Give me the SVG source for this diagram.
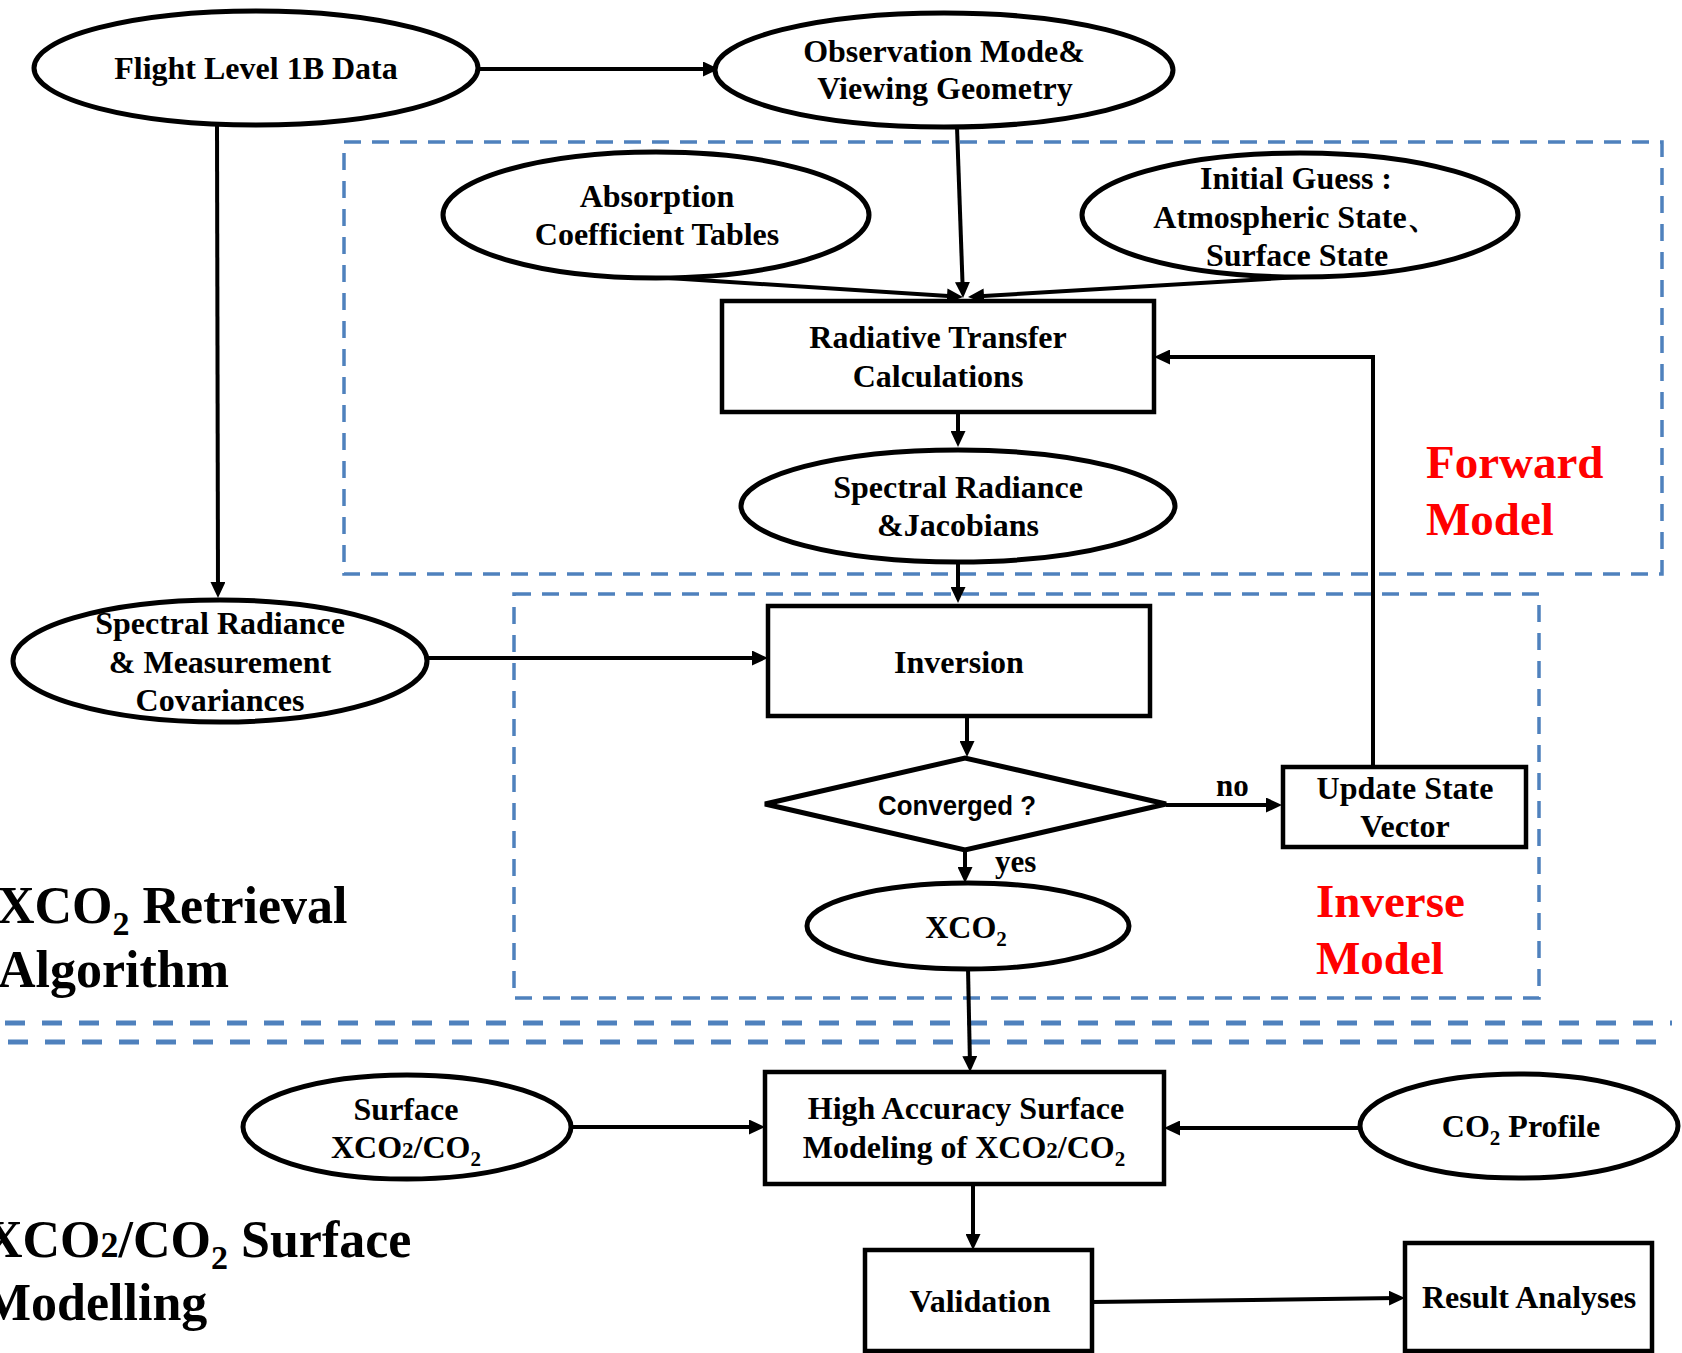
<svg xmlns="http://www.w3.org/2000/svg" width="1682" height="1353" viewBox="0 0 1682 1353">
<style>
.sh{fill:#fff;stroke:#000;stroke-width:5}
.bx{fill:#fff;stroke:#000;stroke-width:4.5}
.t{font-family:"Liberation Serif","Times New Roman",serif;font-weight:bold;font-size:32px;fill:#000;text-anchor:middle}
.tl{font-family:"Liberation Serif","Times New Roman",serif;font-weight:bold;font-size:31px;fill:#000}
.big{font-family:"Liberation Serif","Times New Roman",serif;font-weight:bold;font-size:52px;fill:#000}
.red{font-family:"Liberation Serif","Times New Roman",serif;font-weight:bold;font-size:47px;fill:#ff0000}
.sans{font-family:"Liberation Sans",Arial,sans-serif;font-weight:bold;font-size:28px;fill:#000}
.dash{fill:none;stroke:#4f81bd;stroke-width:3.5;stroke-dasharray:17 11}
.sep{fill:none;stroke:#4f81bd;stroke-width:5;stroke-dasharray:20 17}
.c{fill:none;stroke:#000;stroke-width:4;marker-end:url(#ah)}
</style>
<defs>
<marker id="ah" markerWidth="16" markerHeight="15" refX="9" refY="7.5" orient="auto" markerUnits="userSpaceOnUse"><path d="M0,0 L16,7.5 L0,15 z" fill="#000"/></marker>
</defs>
<rect width="1682" height="1353" fill="#fff"/>

<g id="regions">
<rect class="dash" x="344" y="142" width="1318" height="432"/>
<rect class="dash" x="514" y="594" width="1025" height="404"/>
<line class="sep" x1="5" y1="1023" x2="1672" y2="1023"/>
<line class="sep" x1="8" y1="1042" x2="1672" y2="1042"/>
</g>

<g id="connectors">
<path class="c" d="M478,69 L712,69"/>
<path class="c" d="M217,125 L218,591"/>
<path class="c" d="M957,127 L962.8,291"/>
<path class="c" d="M653,277 L956,296.5"/>
<path class="c" d="M1300,277 L975,296.5"/>
<path class="c" d="M958,412 L958,440"/>
<path class="c" d="M958,563 L958,596"/>
<path class="c" d="M427,658 L761,658"/>
<path class="c" d="M967,716 L967,750"/>
<path class="c" d="M1166,805 L1275,805"/>
<path class="c" d="M1373,767 L1373,357 L1161,357"/>
<path class="c" d="M965,850 L965,876"/>
<path class="c" d="M968,968 L970,1065"/>
<path class="c" d="M570,1127 L758,1127"/>
<path class="c" d="M1360,1128 L1171,1128"/>
<path class="c" d="M973,1184 L973,1243"/>
<path class="c" d="M1092,1302 L1398,1298"/>
<text class="tl" x="1216" y="796">no</text>
<text class="tl" x="995" y="872">yes</text>
</g>

<g id="flight">
<ellipse class="sh" cx="256" cy="68" rx="222" ry="57"/>
<text class="t" x="256" y="79">Flight Level 1B Data</text>
</g>

<g id="observation">
<ellipse class="sh" cx="944" cy="70" rx="229" ry="57"/>
<text class="t" x="944" y="62">Observation Mode&amp;</text>
<text class="t" x="945" y="99">Viewing Geometry</text>
</g>

<g id="absorption">
<ellipse class="sh" cx="656" cy="215" rx="213" ry="63"/>
<text class="t" x="657" y="207">Absorption</text>
<text class="t" x="657" y="245">Coefficient Tables</text>
</g>

<g id="initial-guess">
<ellipse class="sh" cx="1300" cy="215" rx="218" ry="62"/>
<text class="t" x="1296" y="189">Initial Guess :</text>
<text class="t" x="1296" y="228">Atmospheric State、</text>
<text class="t" x="1297" y="266">Surface State</text>
</g>

<g id="radiative-transfer">
<rect class="bx" x="722" y="301" width="432" height="111"/>
<text class="t" x="938" y="348">Radiative Transfer</text>
<text class="t" x="938" y="387">Calculations</text>
</g>

<g id="spectral-jacobians">
<ellipse class="sh" cx="958" cy="506" rx="217" ry="56"/>
<text class="t" x="958" y="498">Spectral Radiance</text>
<text class="t" x="958" y="536">&amp;Jacobians</text>
</g>

<g id="spectral-measurement">
<ellipse class="sh" cx="220" cy="661" rx="207" ry="61"/>
<text class="t" x="220" y="634">Spectral Radiance</text>
<text class="t" x="220" y="673">&amp; Measurement</text>
<text class="t" x="220" y="711">Covariances</text>
</g>

<g id="inversion">
<rect class="bx" x="768" y="606" width="382" height="110"/>
<text class="t" x="959" y="673">Inversion</text>
</g>

<g id="converged">
<path class="sh" d="M765,804 L965,758 L1166,804 L965,850 Z"/>
<text class="sans" x="878" y="815" textLength="158" lengthAdjust="spacingAndGlyphs">Converged ?</text>
</g>

<g id="update-state">
<rect class="bx" x="1283" y="767" width="243" height="80"/>
<text class="t" x="1405" y="799">Update State</text>
<text class="t" x="1405" y="837">Vector</text>
</g>

<g id="xco2">
<ellipse class="sh" cx="968" cy="926" rx="161" ry="43"/>
<text class="t" x="966" y="938">XCO<tspan font-size="21" dy="8">2</tspan></text>
</g>

<g id="forward-label">
<text class="red" x="1426" y="478">Forward</text>
<text class="red" x="1426" y="535">Model</text>
</g>

<g id="inverse-label">
<text class="red" x="1316" y="917">Inverse</text>
<text class="red" x="1316" y="974">Model</text>
</g>

<g id="retrieval-label">
<text class="big" x="-3" y="923">XCO<tspan font-size="34" dy="12">2</tspan><tspan dy="-12"> Retrieval</tspan></text>
<text class="big" x="-2" y="987">Algorithm</text>
</g>

<g id="surface-obs">
<ellipse class="sh" cx="407" cy="1127" rx="164" ry="52"/>
<text class="t" x="406" y="1120">Surface</text>
<text class="t" x="406" y="1158">XCO<tspan font-size="23">2</tspan>/CO<tspan font-size="21" dy="8">2</tspan></text>
</g>

<g id="hasm">
<rect class="bx" x="765" y="1072" width="399" height="112"/>
<text class="t" x="966" y="1119">High Accuracy Surface</text>
<text class="t" x="964" y="1158">Modeling of XCO<tspan font-size="23">2</tspan>/CO<tspan font-size="21" dy="8">2</tspan></text>
</g>

<g id="co2-profile">
<ellipse class="sh" cx="1519" cy="1126" rx="159" ry="52"/>
<text class="t" x="1521" y="1137">CO<tspan font-size="21" dy="8">2</tspan><tspan dy="-8"> Profile</tspan></text>
</g>

<g id="validation">
<rect class="bx" x="865" y="1250" width="227" height="101"/>
<text class="t" x="980" y="1312">Validation</text>
</g>

<g id="result">
<rect class="bx" x="1405" y="1243" width="247" height="108"/>
<text class="t" x="1529" y="1308">Result Analyses</text>
</g>

<g id="surface-label">
<text class="big" x="-15" y="1257">XCO<tspan font-size="36">2</tspan>/CO<tspan font-size="34" dy="12">2</tspan><tspan dy="-12"> Surface</tspan></text>
<text class="big" x="-18" y="1320">Modelling</text>
</g>
</svg>
